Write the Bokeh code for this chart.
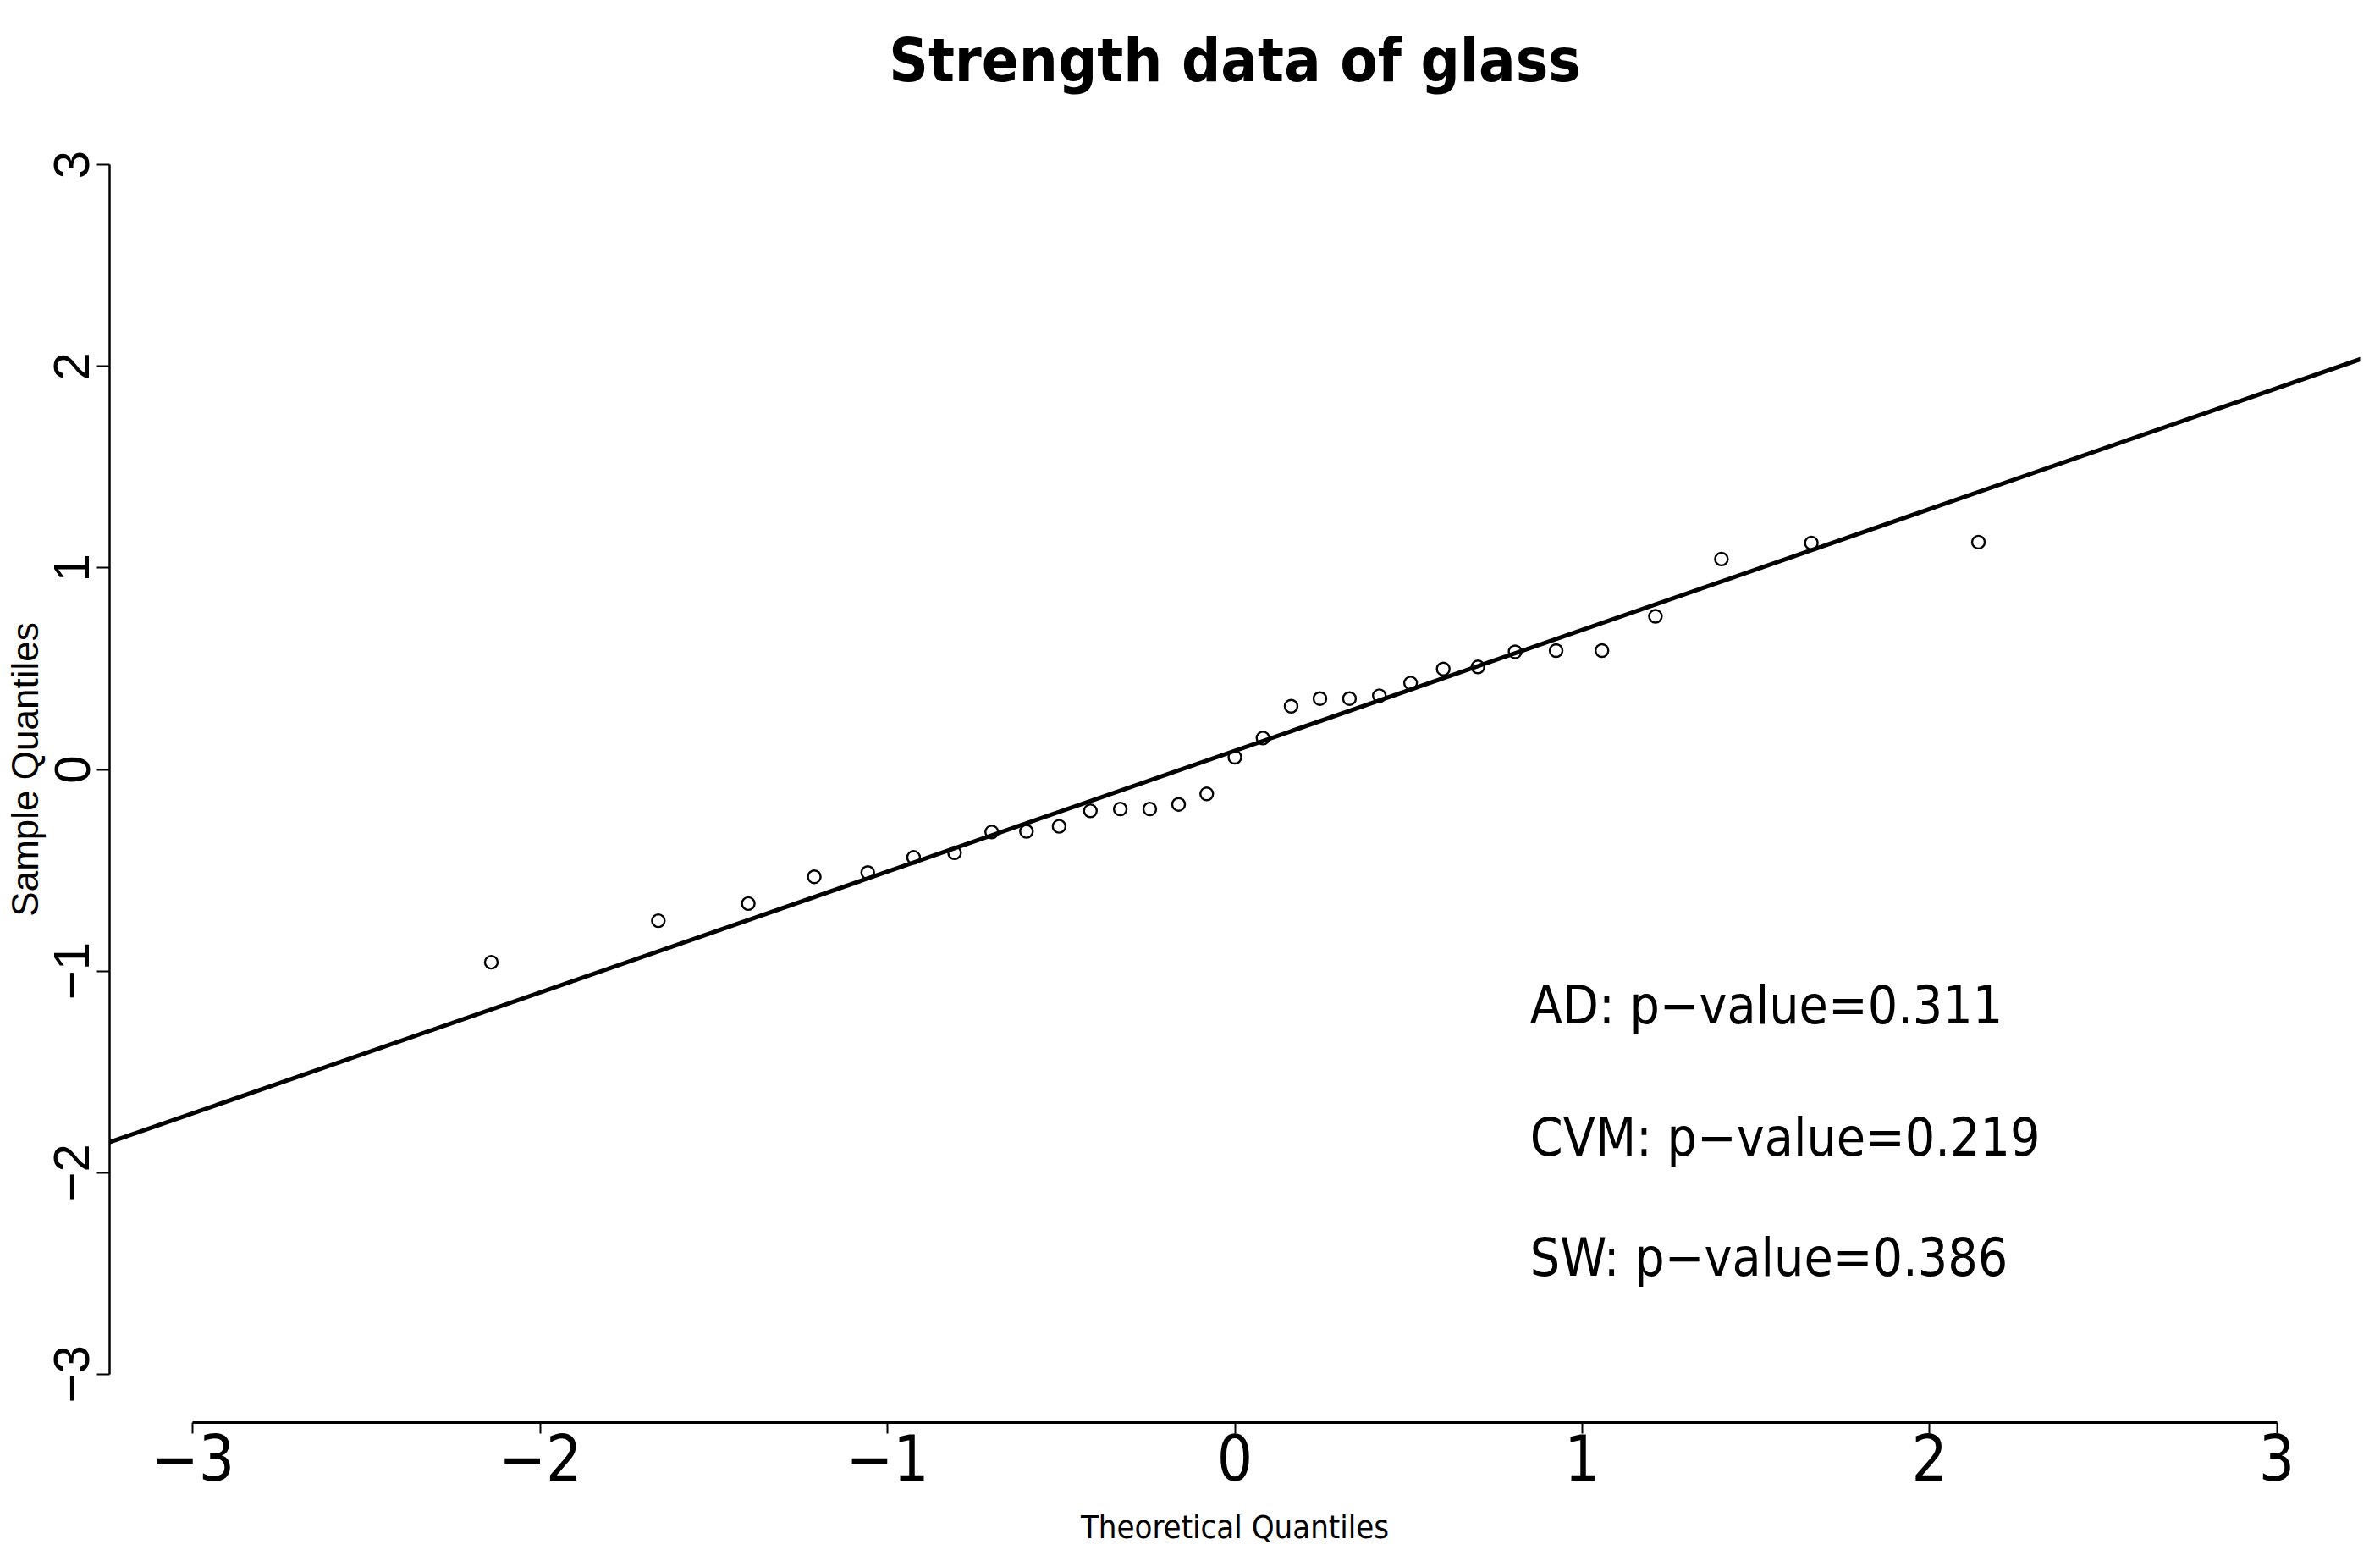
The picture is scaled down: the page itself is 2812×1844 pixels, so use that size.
import math
from bokeh.plotting import figure
from bokeh.models import Range1d, FixedTicker, Slope, ColumnDataSource
from bokeh.core.properties import value
from bokeh.embed import file_html
from bokeh.resources import INLINE

# ---- data ----
theoretical_q = [-2.141, -1.660, -1.401, -1.211, -1.057, -0.925, -0.807, -0.700,
                 -0.600, -0.506, -0.416, -0.330, -0.245, -0.162, -0.081, 0.000,
                 0.081, 0.162, 0.245, 0.330, 0.416, 0.506, 0.600, 0.700,
                 0.807, 0.925, 1.057, 1.211, 1.401, 1.660, 2.141]
sample_q = [-0.956, -0.750, -0.665, -0.532, -0.511, -0.436, -0.413, -0.310,
            -0.307, -0.282, -0.205, -0.196, -0.196, -0.173, -0.121, 0.061,
            0.156, 0.314, 0.352, 0.352, 0.366, 0.429, 0.499, 0.509,
            0.584, 0.590, 0.590, 0.760, 1.044, 1.124, 1.128]
line_slope = 0.5994
line_intercept = 0.093

tick_values = [-3, -2, -1, 0, 1, 2, 3]
tick_labels = ["\u22123", "\u22122", "\u22121", "0", "1", "2", "3"]

test_names = ["AD", "CVM", "SW"]
p_values = ["0.311", "0.219", "0.386"]

NARROW = "Liberation Sans Narrow, DejaVu Sans Condensed, Arial Narrow, Liberation Sans, sans-serif"
REG = "Liberation Sans"

p = figure(width=2796, height=1828, output_backend="svg", toolbar_location=None,
           x_range=Range1d(-3.24, 3.24), y_range=Range1d(-3.24, 3.24),
           min_border_left=129, min_border_right=8,
           min_border_top=137, min_border_bottom=147,
           background_fill_color="white", border_fill_color="white")
p.outline_line_color = None
p.grid.visible = False

# title
p.title.text = "Strength data of glass"
p.title.text_font = NARROW
p.title.text_font_style = "bold"
p.title.text_font_size = "72px"
p.title.align = "center"
p.title.standoff = 50
p.title.text_color = "black"

# x axis
xa = p.xaxis[0]
xa.ticker = FixedTicker(ticks=tick_values)
xa.major_label_overrides = {t: l for t, l in zip(tick_values, tick_labels)}
xa.bounds = (-3, 3)
xa.minor_tick_line_color = None
xa.major_tick_in = 0
xa.major_tick_out = 13
xa.major_tick_line_width = 2
xa.axis_line_width = 3
xa.axis_line_color = "black"
xa.major_tick_line_color = "black"
xa.major_label_text_font = NARROW
xa.major_label_text_font_size = "74px"
xa.major_label_text_color = "black"
xa.major_label_standoff = 0
xa.axis_label = "Theoretical Quantiles"
xa.axis_label_text_font = NARROW
xa.axis_label_text_font_size = "38px"
xa.axis_label_text_font_style = "normal"
xa.axis_label_text_color = "black"
xa.axis_label_standoff = 30

# y axis
ya = p.yaxis[0]
ya.ticker = FixedTicker(ticks=tick_values)
ya.major_label_overrides = {t: l for t, l in zip(tick_values, tick_labels)}
ya.bounds = (-3, 3)
ya.minor_tick_line_color = None
ya.major_tick_in = 0
ya.major_tick_out = 15
ya.major_tick_line_width = 2
ya.axis_line_width = 2.5
ya.axis_line_color = "black"
ya.major_tick_line_color = "black"
ya.major_label_text_font = REG
ya.major_label_text_font_size = "60px"
ya.major_label_text_color = "black"
ya.major_label_orientation = "vertical"
ya.major_label_standoff = 9
ya.axis_label = "Sample Quantiles"
ya.axis_label_text_font = REG
ya.axis_label_text_font_size = "44px"
ya.axis_label_text_font_style = "normal"
ya.axis_label_text_color = "black"
ya.axis_label_standoff = 8

# reference line
p.add_layout(Slope(gradient=line_slope, y_intercept=line_intercept,
                   line_color="black", line_width=5))

# points
src = ColumnDataSource(dict(x=theoretical_q, y=sample_q))
p.scatter("x", "y", source=src, marker="circle", size=15,
          fill_color=None, line_color="black", line_width=2.4)

# test annotations
ann_text = [f"{n}: p\u2212value={v}" for n, v in zip(test_names, p_values)]
ann_src = ColumnDataSource(dict(x=[0.85, 0.85, 0.85], y=[-1.17, -1.825, -2.42], t=ann_text))
p.text("x", "y", text="t", source=ann_src, text_font=value(NARROW),
       text_font_size="62px", text_align="left", text_baseline="alphabetic",
       text_color="black")

open("out.html", "w").write(file_html(p, INLINE))
